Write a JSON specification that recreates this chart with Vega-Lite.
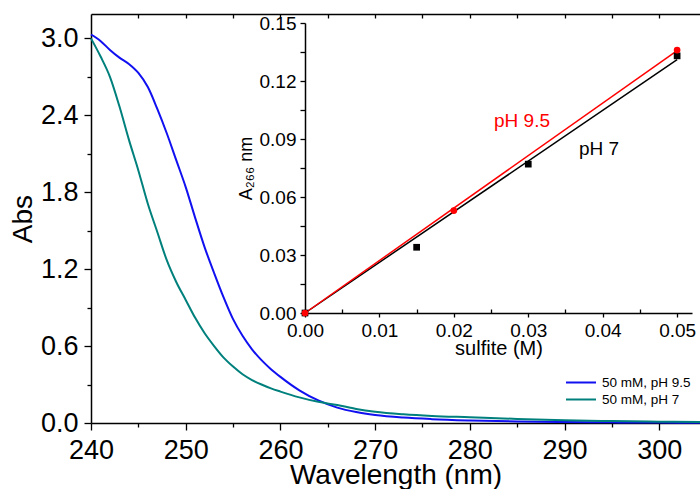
{
  "$schema": "https://vega.github.io/schema/vega-lite/v6.json",
  "width": 609,
  "height": 409,
  "autosize": {"type": "none"},
  "padding": {"left": 91, "top": 14, "right": 0, "bottom": 66},
  "background": "white",
  "config": {
    "view": {"stroke": null},
    "font": "Liberation Sans",
    "axis": {"domainColor": "black", "tickColor": "black", "labelColor": "black", "titleColor": "black", "grid": false, "titleFontWeight": "normal", "domainWidth": 1.5, "tickWidth": 1.3, "labelFont": "Liberation Sans", "titleFont": "Liberation Sans"}
  },
  "datasets": {
    "spectra": [
      {"wavelength": 240, "abs": 3.03, "series": "50 mM, pH 9.5"},
      {"wavelength": 241, "abs": 2.98, "series": "50 mM, pH 9.5"},
      {"wavelength": 242, "abs": 2.91, "series": "50 mM, pH 9.5"},
      {"wavelength": 243, "abs": 2.85, "series": "50 mM, pH 9.5"},
      {"wavelength": 244, "abs": 2.80, "series": "50 mM, pH 9.5"},
      {"wavelength": 245, "abs": 2.73, "series": "50 mM, pH 9.5"},
      {"wavelength": 246, "abs": 2.62, "series": "50 mM, pH 9.5"},
      {"wavelength": 247, "abs": 2.45, "series": "50 mM, pH 9.5"},
      {"wavelength": 248, "abs": 2.26, "series": "50 mM, pH 9.5"},
      {"wavelength": 249, "abs": 2.05, "series": "50 mM, pH 9.5"},
      {"wavelength": 250, "abs": 1.84, "series": "50 mM, pH 9.5"},
      {"wavelength": 251, "abs": 1.60, "series": "50 mM, pH 9.5"},
      {"wavelength": 252, "abs": 1.37, "series": "50 mM, pH 9.5"},
      {"wavelength": 253, "abs": 1.17, "series": "50 mM, pH 9.5"},
      {"wavelength": 254, "abs": 0.98, "series": "50 mM, pH 9.5"},
      {"wavelength": 255, "abs": 0.81, "series": "50 mM, pH 9.5"},
      {"wavelength": 256, "abs": 0.68, "series": "50 mM, pH 9.5"},
      {"wavelength": 257, "abs": 0.575, "series": "50 mM, pH 9.5"},
      {"wavelength": 258, "abs": 0.49, "series": "50 mM, pH 9.5"},
      {"wavelength": 259, "abs": 0.42, "series": "50 mM, pH 9.5"},
      {"wavelength": 260, "abs": 0.36, "series": "50 mM, pH 9.5"},
      {"wavelength": 262, "abs": 0.255, "series": "50 mM, pH 9.5"},
      {"wavelength": 264, "abs": 0.176, "series": "50 mM, pH 9.5"},
      {"wavelength": 266, "abs": 0.12, "series": "50 mM, pH 9.5"},
      {"wavelength": 268, "abs": 0.085, "series": "50 mM, pH 9.5"},
      {"wavelength": 270, "abs": 0.062, "series": "50 mM, pH 9.5"},
      {"wavelength": 273, "abs": 0.042, "series": "50 mM, pH 9.5"},
      {"wavelength": 276, "abs": 0.03, "series": "50 mM, pH 9.5"},
      {"wavelength": 280, "abs": 0.02, "series": "50 mM, pH 9.5"},
      {"wavelength": 285, "abs": 0.012, "series": "50 mM, pH 9.5"},
      {"wavelength": 290, "abs": 0.008, "series": "50 mM, pH 9.5"},
      {"wavelength": 295, "abs": 0.005, "series": "50 mM, pH 9.5"},
      {"wavelength": 300, "abs": 0.003, "series": "50 mM, pH 9.5"},
      {"wavelength": 304.3, "abs": 0.002, "series": "50 mM, pH 9.5"},
      {"wavelength": 240, "abs": 3.00, "series": "50 mM, pH 7"},
      {"wavelength": 241, "abs": 2.86, "series": "50 mM, pH 7"},
      {"wavelength": 242, "abs": 2.70, "series": "50 mM, pH 7"},
      {"wavelength": 243, "abs": 2.47, "series": "50 mM, pH 7"},
      {"wavelength": 244, "abs": 2.21, "series": "50 mM, pH 7"},
      {"wavelength": 245, "abs": 1.97, "series": "50 mM, pH 7"},
      {"wavelength": 246, "abs": 1.71, "series": "50 mM, pH 7"},
      {"wavelength": 247, "abs": 1.49, "series": "50 mM, pH 7"},
      {"wavelength": 248, "abs": 1.27, "series": "50 mM, pH 7"},
      {"wavelength": 249, "abs": 1.10, "series": "50 mM, pH 7"},
      {"wavelength": 250, "abs": 0.96, "series": "50 mM, pH 7"},
      {"wavelength": 251, "abs": 0.82, "series": "50 mM, pH 7"},
      {"wavelength": 252, "abs": 0.70, "series": "50 mM, pH 7"},
      {"wavelength": 253, "abs": 0.60, "series": "50 mM, pH 7"},
      {"wavelength": 254, "abs": 0.51, "series": "50 mM, pH 7"},
      {"wavelength": 255, "abs": 0.44, "series": "50 mM, pH 7"},
      {"wavelength": 256, "abs": 0.38, "series": "50 mM, pH 7"},
      {"wavelength": 257, "abs": 0.335, "series": "50 mM, pH 7"},
      {"wavelength": 258, "abs": 0.30, "series": "50 mM, pH 7"},
      {"wavelength": 259, "abs": 0.27, "series": "50 mM, pH 7"},
      {"wavelength": 260, "abs": 0.245, "series": "50 mM, pH 7"},
      {"wavelength": 262, "abs": 0.20, "series": "50 mM, pH 7"},
      {"wavelength": 264, "abs": 0.165, "series": "50 mM, pH 7"},
      {"wavelength": 266, "abs": 0.14, "series": "50 mM, pH 7"},
      {"wavelength": 268, "abs": 0.11, "series": "50 mM, pH 7"},
      {"wavelength": 270, "abs": 0.088, "series": "50 mM, pH 7"},
      {"wavelength": 273, "abs": 0.068, "series": "50 mM, pH 7"},
      {"wavelength": 276, "abs": 0.055, "series": "50 mM, pH 7"},
      {"wavelength": 280, "abs": 0.045, "series": "50 mM, pH 7"},
      {"wavelength": 285, "abs": 0.032, "series": "50 mM, pH 7"},
      {"wavelength": 290, "abs": 0.022, "series": "50 mM, pH 7"},
      {"wavelength": 295, "abs": 0.015, "series": "50 mM, pH 7"},
      {"wavelength": 300, "abs": 0.010, "series": "50 mM, pH 7"},
      {"wavelength": 304.3, "abs": 0.008, "series": "50 mM, pH 7"}
    ],
    "fits": [
      {"sulfite": 0, "a266": 0, "ph": "pH 7"},
      {"sulfite": 0.05, "a266": 0.131, "ph": "pH 7"},
      {"sulfite": 0, "a266": 0, "ph": "pH 9.5"},
      {"sulfite": 0.05, "a266": 0.1357, "ph": "pH 9.5"}
    ],
    "points": [
      {"sulfite": 0, "a266": 0, "ph": "pH 7"},
      {"sulfite": 0.015, "a266": 0.034, "ph": "pH 7"},
      {"sulfite": 0.03, "a266": 0.077, "ph": "pH 7"},
      {"sulfite": 0.05, "a266": 0.133, "ph": "pH 7"},
      {"sulfite": 0, "a266": 0, "ph": "pH 9.5"},
      {"sulfite": 0.02, "a266": 0.053, "ph": "pH 9.5"},
      {"sulfite": 0.05, "a266": 0.136, "ph": "pH 9.5"}
    ],
    "labels": [
      {"sulfite": 0.0254, "a266": 0.0962, "ph": "pH 9.5", "label": "pH 9.5"},
      {"sulfite": 0.0368, "a266": 0.0817, "ph": "pH 7", "label": "pH 7"}
    ]
  },
  "layer": [
    {
      "data": {"name": "spectra"},
      "mark": {"type": "line", "strokeWidth": 2, "interpolate": "monotone"},
      "encoding": {
        "x": {
          "field": "wavelength", "type": "quantitative",
          "scale": {"domain": [240, 304.3], "nice": false, "zero": false},
          "axis": {
            "orient": "bottom",
            "values": [240, 245, 250, 255, 260, 265, 270, 275, 280, 285, 290, 295, 300],
            "format": "d",
            "labelExpr": "datum.value % 10 === 0 ? datum.label : ''",
            "tickSize": {"condition": {"test": "datum.value % 10 === 0", "value": 7}, "value": 4},
            "labelFontSize": 27, "labelPadding": 7,
            "labelFlush": false, "labelOverlap": false,
            "title": "Wavelength (nm)", "titleFontSize": 28, "titleBaseline": "alphabetic", "titleY": 60
          }
        },
        "y": {
          "field": "abs", "type": "quantitative",
          "scale": {"domain": [0, 3.19], "nice": false},
          "axis": {
            "values": [0, 0.3, 0.6, 0.9, 1.2, 1.5, 1.8, 2.1, 2.4, 2.7, 3.0],
            "labelExpr": "round(datum.value * 10) % 6 === 0 ? format(datum.value, '.1f') : ''",
            "tickSize": {"condition": {"test": "round(datum.value * 10) % 6 === 0", "value": 7}, "value": 4},
            "labelFontSize": 27, "labelPadding": 6,
            "labelFlush": false, "labelOverlap": false,
            "title": "Abs", "titleFontSize": 28, "titlePadding": 3
          }
        },
        "color": {
          "field": "series", "type": "nominal",
          "scale": {"domain": ["50 mM, pH 9.5", "50 mM, pH 7"], "range": ["#1010f0", "#00807c"]},
          "legend": {
            "title": null, "orient": "none", "legendX": 474, "legendY": 361,
            "symbolType": "stroke", "symbolSize": 900, "symbolStrokeWidth": 2, "clipHeight": 15,
            "labelFontSize": 13.5, "labelColor": "black", "rowPadding": 2, "labelOffset": 5
          }
        }
      }
    },
    {
      "data": {"name": "spectra"},
      "mark": {"type": "line", "opacity": 0},
      "encoding": {
        "x": {
          "field": "wavelength", "type": "quantitative",
          "scale": {"domain": [240, 304.3], "nice": false, "zero": false},
          "axis": {
            "orient": "top",
            "values": [245, 250, 255, 260, 265, 270, 275, 280, 285, 290, 295, 300],
            "labels": false, "tickSize": -4, "title": null
          }
        },
        "y": {
          "field": "abs", "type": "quantitative",
          "scale": {"domain": [0, 3.19], "nice": false},
          "axis": null
        }
      }
    },
    {
      "data": {"name": "fits"},
      "mark": {"type": "line", "strokeWidth": 1.5},
      "encoding": {
        "x": {
          "field": "sulfite", "type": "quantitative",
          "scale": {"domain": [0, 0.052], "range": [214, 601], "nice": false, "zero": false},
          "axis": {
            "orient": "bottom", "offset": -110,
            "values": [0, 0.005, 0.01, 0.015, 0.02, 0.025, 0.03, 0.035, 0.04, 0.045, 0.05],
            "labelExpr": "round(datum.value * 1000) % 10 === 0 ? format(datum.value, '.2f') : ''",
            "tickSize": {"condition": {"test": "round(datum.value * 1000) % 10 === 0", "value": 4}, "value": -4},
            "labelFontSize": 19, "labelPadding": 4, "labelFlush": false, "labelOverlap": false,
            "title": "sulfite (M)", "titleFontSize": 20, "titleBaseline": "alphabetic", "titleY": 41
          }
        },
        "y": {
          "field": "a266", "type": "quantitative",
          "scale": {"domain": [0, 0.15], "range": [299, 9], "nice": false},
          "axis": {
            "orient": "left", "offset": -214,
            "values": [0, 0.015, 0.03, 0.045, 0.06, 0.075, 0.09, 0.105, 0.12, 0.135, 0.15],
            "labelExpr": "round(datum.value * 1000) % 30 === 0 ? format(datum.value, '.2f') : ''",
            "tickSize": 5, "labelFontSize": 19, "labelPadding": 4, "labelFlush": false, "labelOverlap": false,
            "title": "A₂₆₆ nm", "titleFontSize": 18, "titlePadding": 4
          }
        },
        "color": {"field": "ph", "type": "nominal", "scale": {"domain": ["pH 9.5", "pH 7"], "range": ["#ff0000", "#000000"]}, "legend": null}
      }
    },
    {
      "data": {"name": "points"},
      "mark": {"type": "point", "filled": true, "size": 45, "opacity": 1},
      "encoding": {
        "x": {"field": "sulfite", "type": "quantitative", "scale": {"domain": [0, 0.052], "range": [214, 601], "nice": false, "zero": false}, "axis": null},
        "y": {"field": "a266", "type": "quantitative", "scale": {"domain": [0, 0.15], "range": [299, 9], "nice": false}, "axis": null},
        "color": {"field": "ph", "type": "nominal", "scale": {"domain": ["pH 9.5", "pH 7"], "range": ["#ff0000", "#000000"]}, "legend": null},
        "shape": {"field": "ph", "type": "nominal", "scale": {"domain": ["pH 9.5", "pH 7"], "range": ["circle", "square"]}, "legend": null}
      }
    },
    {
      "data": {"name": "labels"},
      "mark": {"type": "text", "align": "left", "baseline": "alphabetic", "fontSize": 19},
      "encoding": {
        "x": {"field": "sulfite", "type": "quantitative", "scale": {"domain": [0, 0.052], "range": [214, 601], "nice": false, "zero": false}, "axis": null},
        "y": {"field": "a266", "type": "quantitative", "scale": {"domain": [0, 0.15], "range": [299, 9], "nice": false}, "axis": null},
        "text": {"field": "label"},
        "color": {"field": "ph", "type": "nominal", "scale": {"domain": ["pH 9.5", "pH 7"], "range": ["#ff0000", "#000000"]}, "legend": null}
      }
    }
  ],
  "resolve": {"scale": {"x": "independent", "y": "independent", "color": "independent", "shape": "independent"}}
}
